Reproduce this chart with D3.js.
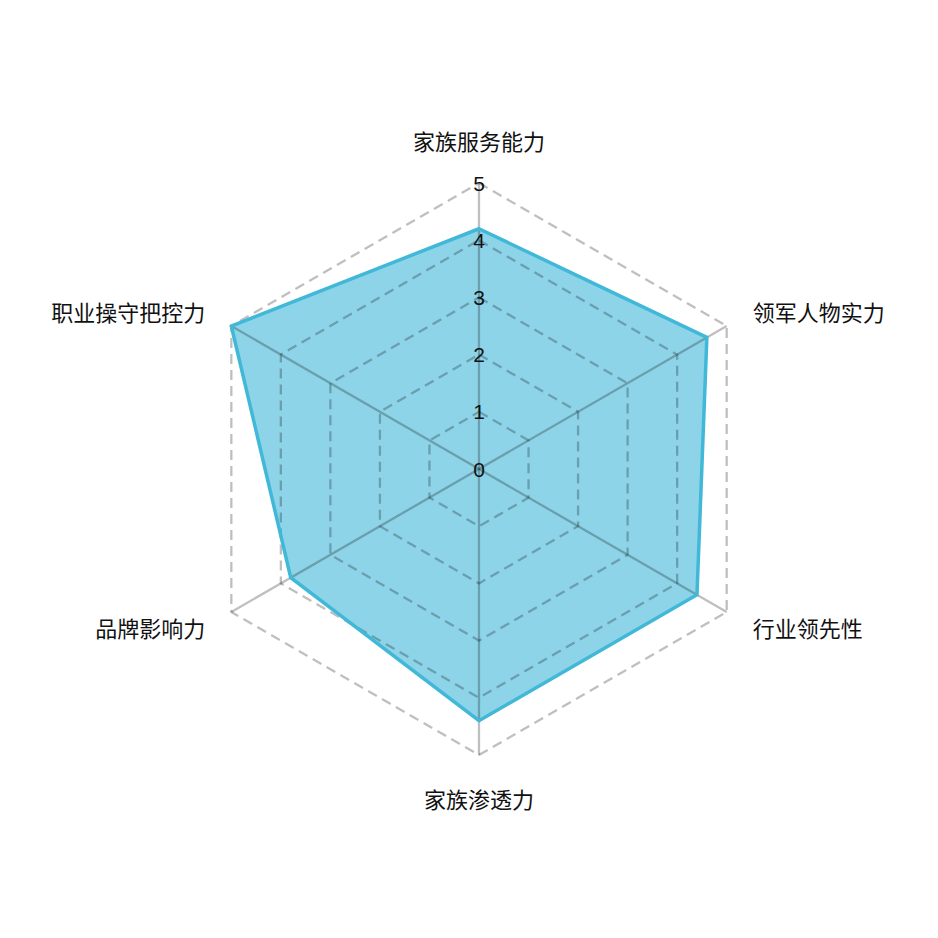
<!DOCTYPE html>
<html>
<head>
<meta charset="utf-8">
<script src="https://cdn.jsdelivr.net/npm/d3@7"></script>
<style>
  html, body { margin: 0; padding: 0; background: #fff; }
  svg { display: block; }
</style>
</head>
<body>
<svg id="chart" width="938" height="938"></svg>
<script>
const indicators = ["家族服务能力", "领军人物实力", "行业领先性", "家族渗透力", "品牌影响力", "职业操守把控力"];
const values = [4.2, 4.6, 4.4, 4.4, 3.8, 5.0];
const maxValue = 5;
const tickValues = [0, 1, 2, 3, 4, 5];

const W = 938, H = 938;
const cx = 479, cy = 469, R = 286;
const svg = d3.select("#chart");
const g = svg.append("g").attr("transform", `translate(${cx},${cy})`);

const r = d3.scaleLinear().domain([0, maxValue]).range([0, R]);
const n = indicators.length;
const ang = i => i * 2 * Math.PI / n;
const pt = (i, v) => [Math.sin(ang(i)) * r(v), -Math.cos(ang(i)) * r(v)];

// data area
g.append("path")
  .attr("d", d3.line()(values.map((v, i) => pt(i, v))) + "Z")
  .attr("fill", "#41b8d8")
  .attr("fill-opacity", 0.6)
  .attr("stroke", "none");

// grid polygons (dashed)
tickValues.filter(t => t > 0).forEach(t => {
  g.append("path")
    .attr("d", d3.line()(indicators.map((_, i) => pt(i, t))) + "Z")
    .attr("fill", "none")
    .attr("stroke", "rgba(0,0,0,0.25)")
    .attr("stroke-width", 2.3)
    .attr("stroke-dasharray", "10,6");
});

// axis lines
indicators.forEach((_, i) => {
  const p = pt(i, maxValue);
  g.append("line")
    .attr("x1", 0).attr("y1", 0)
    .attr("x2", p[0]).attr("y2", p[1])
    .attr("stroke", "rgba(0,0,0,0.25)")
    .attr("stroke-width", 2.3);
});

// data outline
g.append("path")
  .attr("d", d3.line()(values.map((v, i) => pt(i, v))) + "Z")
  .attr("fill", "none")
  .attr("stroke", "#41b8d8")
  .attr("stroke-width", 3.5)
  .attr("stroke-linejoin", "miter");

// tick labels
g.selectAll("text.tick")
  .data(tickValues)
  .enter().append("text")
  .attr("class", "tick")
  .attr("x", 0)
  .attr("y", d => -r(d))
  .attr("text-anchor", "middle")
  .attr("dominant-baseline", "central")
  .attr("font-family", "'Liberation Sans', Arial, sans-serif")
  .attr("font-size", 21)
  .attr("fill", "#111")
  .text(d => d);

// indicator labels
indicators.forEach((name, i) => {
  const a = ang(i);
  const s = Math.sin(a), c = Math.cos(a);
  let anchor = "middle", rr = R + 30;
  if (Math.abs(s) < 1e-6) { rr = R + 43; }
  else if (s > 0) anchor = "start";
  else anchor = "end";
  g.append("text")
    .attr("x", s * rr)
    .attr("y", -c * rr)
    .attr("text-anchor", anchor)
    .attr("dominant-baseline", "central")
    .attr("font-family", "'Noto Sans CJK SC', sans-serif")
    .attr("font-size", 22)
    .attr("fill", "#111")
    .text(name);
});
</script>
</body>
</html>
